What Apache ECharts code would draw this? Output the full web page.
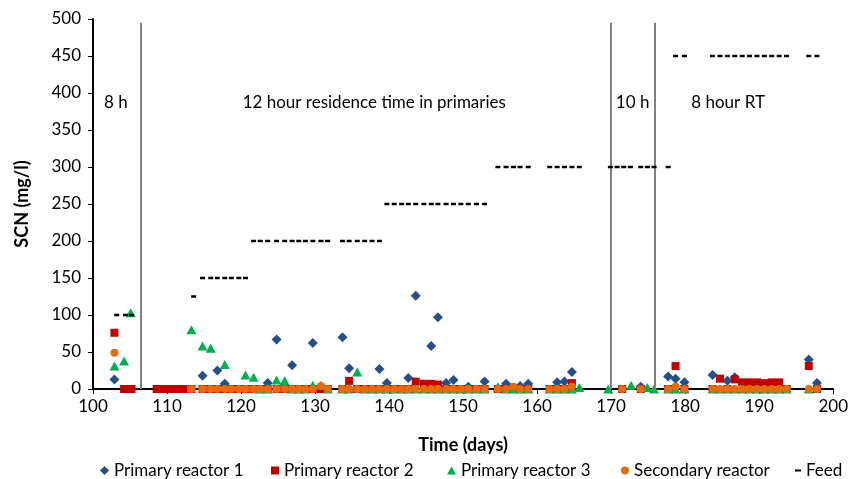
<!DOCTYPE html>
<html>
<head>
<meta charset="utf-8">
<script src="https://cdn.jsdelivr.net/npm/echarts@6/dist/echarts.min.js"></script>
<style>
html,body{margin:0;padding:0;background:#fff;}
#chart{width:851px;height:479px;}
</style>
</head>
<body>
<div id="chart"></div>
<script>
// ---- Data ----
const xTicks = [100,110,120,130,140,150,160,170,180,190,200];
const yTicks = [0,50,100,150,200,250,300,350,400,450,500];

const r1Days = [102.9,114.8,116.8,117.8,123.6,124.8,126.9,129.7,133.7,134.6,138.7,139.7,142.6,143.6,145.7,146.6,147.7,148.7,150.7,152.9,155.8,157.7,158.8,162.7,163.7,164.7,174.0,177.7,178.7,179.9,183.7,185.7,186.7,196.7,197.8];
const r1Vals = [13,18,25,7,8,67,32,62,70,28,27,8,15,126,58,97,8,12,3,10,7,4,7,9,10,23,3,17,14,9,19,11,16,40,8];

const r2Days = [102.9,104.2,105.2,108.6,109.5,110.4,111.3,112.2,113.3,114.8,115.9,116.8,117.8,118.7,119.7,120.6,121.7,122.6,123.6,124.8,125.9,126.9,127.8,128.7,129.7,130.8,131.7,133.7,134.6,135.7,136.7,137.7,138.7,139.7,140.7,141.7,142.6,143.6,144.7,145.7,146.6,147.7,148.7,149.7,150.7,151.8,152.9,154.7,155.8,156.8,157.7,158.8,161.7,162.7,163.7,164.7,171.5,174.0,177.7,178.7,179.9,183.7,184.7,185.7,186.7,187.7,188.7,189.7,190.7,191.7,192.7,193.7,196.7,197.8];
const r2Vals = [76,0,0,0,0,0,0,0,0,0,0,0,0,0,0,0,0,0,0,0,0,0,0,0,0,0,0,0,11,0,0,0,0,0,0,0,0,10,7,7,6,0,0,0,0,0,0,0,0,0,0,0,0,0,0,8,0,0,0,31,0,0,14,0,13,9,9,9,8,9,9,0,31,0];

const r3Days = [102.9,104.2,105.1,113.3,114.8,115.9,117.8,120.6,121.7,122.5,123.6,124.8,125.9,126.9,127.8,128.7,129.7,130.8,131.7,133.7,134.6,135.7,136.7,137.7,138.7,139.7,140.7,141.7,142.6,143.6,144.7,145.7,146.6,147.7,148.7,149.7,150.7,151.8,152.9,154.7,155.8,156.8,157.7,158.8,161.7,162.7,163.7,164.7,165.7,169.6,172.7,174.9,175.8,177.7,178.7,179.9,183.7,184.7,185.7,186.7,187.7,188.7,189.7,190.7,191.7,192.7,193.7,196.7];
const r3Vals = [31,38,103,80,58,55,33,19,16,0,0,12,11,0,0,0,5,5,0,0,0,23,0,0,0,0,0,0,0,0,0,0,0,0,0,0,0,0,0,3,0,0,0,0,0,0,0,0,2,0,5,2,0,0,0,0,0,0,0,0,0,0,0,0,0,0,0,0];

const secDays = [102.9,113.3,114.8,115.9,116.8,117.8,118.7,119.7,120.6,121.7,122.6,123.6,124.8,125.9,126.9,127.8,128.7,129.7,130.8,131.7,133.7,134.6,135.7,136.7,137.7,138.7,139.7,140.7,141.7,142.6,143.6,144.7,145.7,146.6,147.7,148.7,149.7,150.7,151.8,152.9,154.7,155.8,156.8,157.7,158.8,161.7,162.7,163.7,164.7,171.5,174.0,177.7,178.7,179.9,183.7,184.7,185.7,186.7,187.7,188.7,189.7,190.7,191.7,192.7,193.7,196.7,197.8];
const secVals = [49,0,0,0,0,0,0,0,0,0,0,0,0,0,0,0,0,0,4,0,0,0,0,0,0,0,0,0,0,0,0,0,0,0,0,0,0,0,0,0,0,0,3,0,0,0,0,0,3,0,0,0,3,0,0,0,0,0,0,0,0,0,0,0,0,0,0];

const feedDays = [103.2,104.4,105.2,113.6,114.8,115.9,116.8,117.8,118.7,119.7,120.6,121.7,122.6,123.6,124.8,125.9,126.9,127.8,128.7,129.7,130.8,131.7,133.7,134.6,135.7,136.7,137.7,138.7,139.7,140.7,141.7,142.6,143.6,144.7,145.7,146.6,147.7,148.7,149.7,150.7,151.8,152.9,154.7,155.8,156.8,157.7,158.8,161.7,162.7,163.7,164.7,165.7,169.9,170.8,171.7,172.6,174.0,174.9,175.8,177.7,178.7,179.9,183.7,184.7,185.7,186.7,187.7,188.7,189.7,190.7,191.7,192.7,193.7,196.7,197.8];
const feedVals = [100,100,100,125,150,150,150,150,150,150,150,200,200,200,200,200,200,200,200,200,200,200,200,200,200,200,200,200,250,250,250,250,250,250,250,250,250,250,250,250,250,250,300,300,300,300,300,300,300,300,300,300,300,300,300,300,300,300,300,300,450,450,450,450,450,450,450,450,450,450,450,450,450,450,450];

const phaseDays = [106.5,169.9,175.9];
const phaseLabels = ['8 h','12 hour residence time in primaries','10 h','8 hour RT'];
const phaseLabelDays = [103.1,138.0,172.9,185.8];
const phaseLabelLevel = 387;

const seriesNames = ['Primary reactor 1','Primary reactor 2','Primary reactor 3','Secondary reactor','Feed'];

// ---- Build ----
const zip = (a,b) => a.map((d,i)=>[d,b[i]]);
const FONT = 'Lato';
const chart = echarts.init(document.getElementById('chart'), null, {renderer:'canvas'});

const legendLefts = [95,266,442,616,790];
const legendIcons = ['diamond','rect','triangle','circle','rect'];
const legendSizes = [[9,9],[8,8],[9,8],[8,8],[6,2]];

const option = {
  backgroundColor:'#ffffff',
  animation:false,
  grid:{left:93,right:16,top:19,bottom:90,containLabel:false},
  xAxis:{
    type:'value',min:xTicks[0],max:xTicks[xTicks.length-1],interval:10,
    name:'Time (days)',nameLocation:'middle',nameGap:47,
    nameTextStyle:{fontFamily:FONT,fontSize:18,fontWeight:'bold',color:'#000'},
    axisLine:{show:true,lineStyle:{color:'#000',width:2}},
    axisTick:{show:true,inside:false,length:5,lineStyle:{color:'#000',width:1}},
    axisLabel:{fontFamily:FONT,fontSize:17,color:'#000',margin:9},
    splitLine:{show:false}
  },
  yAxis:{
    type:'value',min:yTicks[0],max:yTicks[yTicks.length-1],interval:50,
    name:'SCN (mg/l)',nameLocation:'middle',nameGap:62,nameRotate:90,
    nameTextStyle:{fontFamily:FONT,fontSize:18,fontWeight:'bold',color:'#000'},
    axisLine:{show:true,lineStyle:{color:'#000',width:2}},
    axisTick:{show:true,inside:false,length:5,lineStyle:{color:'#000',width:1}},
    axisLabel:{fontFamily:FONT,fontSize:17,color:'#000',margin:12},
    splitLine:{show:false}
  },
  legend: seriesNames.map((n,i)=>({
    data:[{name:n,icon:legendIcons[i]}],
    left:legendLefts[i],top:457,
    itemWidth:legendSizes[i][0],itemHeight:legendSizes[i][1],
    textStyle:{fontFamily:FONT,fontSize:17,color:'#000'},
    selectedMode:false
  })),
  series:[
    {name:seriesNames[0],type:'scatter',symbol:'diamond',symbolSize:[10,10],
     itemStyle:{color:'#264F8A',opacity:1},data:zip(r1Days,r1Vals),z:2,
     markLine:{silent:true,symbol:['none','none'],label:{show:false},
       lineStyle:{color:'#808080',width:2,type:'solid'},
       data:phaseDays.map(d=>[{coord:[d,0]},{coord:[d,495]}])}},
    {name:seriesNames[1],type:'scatter',symbol:'rect',symbolSize:[8,8],
     itemStyle:{color:'#C00000',opacity:1},data:zip(r2Days,r2Vals),z:3},
    {name:seriesNames[2],type:'scatter',symbol:'triangle',symbolSize:[10,9],
     itemStyle:{color:'#00B050',opacity:1},data:zip(r3Days,r3Vals),z:4},
    {name:seriesNames[3],type:'scatter',symbol:'circle',symbolSize:8,
     itemStyle:{color:'#E46C0A',opacity:1},data:zip(secDays,secVals),z:5},
    {name:seriesNames[4],type:'scatter',symbol:'rect',symbolSize:[5,2.5],
     itemStyle:{color:'#000',opacity:1},data:zip(feedDays,feedVals),z:6,
     markPoint:{silent:true,symbol:'circle',symbolSize:0,
       label:{show:true,position:'inside',fontFamily:FONT,fontSize:17,color:'#000'},
       data:phaseLabels.map((t,i)=>({coord:[phaseLabelDays[i],phaseLabelLevel],value:t,
         label:{formatter:t}}))}}
  ]
};
chart.setOption(option);
</script>
</body>
</html>
